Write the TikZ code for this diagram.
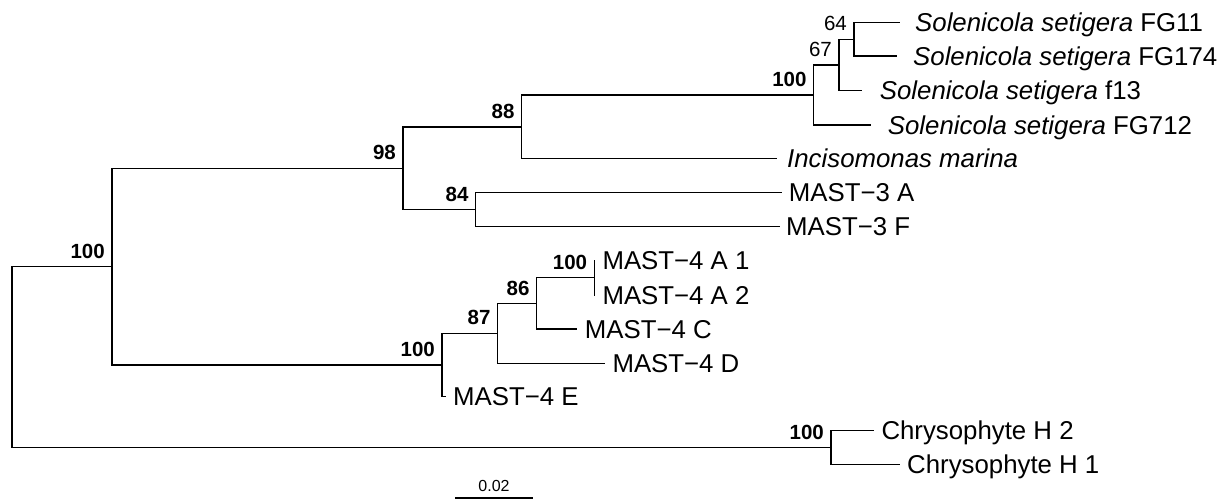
\documentclass[tikz,border=0pt]{standalone}
\usepackage{fontspec}
\setmainfont{Liberation Sans}
\usetikzlibrary{positioning}

\begin{document}
\begin{tikzpicture}[x=1pt,y=-1pt,
    branch/.style={line width=1.25pt,line cap=rect},
    leaf/.style={anchor=west,inner sep=0pt,text height=18.5pt,text depth=0pt,font=\fontsize{25.8}{30}\selectfont},
    boot/.style={anchor=south east,inner sep=0pt,xshift=-7pt,yshift=8pt,font=\fontsize{20.5}{24}\selectfont\bfseries},
    bootn/.style={boot,font=\fontsize{20.5}{24}\selectfont}]
        \useasboundingbox (0,0) rectangle (1225,500);
        % internal nodes
        \coordinate (r) at (12,357.2);
        \coordinate (nA) at (112,266.6);
        \coordinate (n98) at (403,168.3);
        \coordinate (n88) at (521.7,127);
        \coordinate (n100s) at (813.7,95);
        \coordinate (n67) at (839,65);
        \coordinate (n64) at (854,39.2);
        \coordinate (n84) at (475.7,209.7);
        \coordinate (nM) at (442,365);
        \coordinate (n87) at (497.7,333.3);
        \coordinate (n86) at (536.7,303.4);
        \coordinate (n100m) at (594.3,277.7);
        \coordinate (nC) at (831,447.5);
        % tips
        \coordinate (tFG11) at (899,22.3);
        \coordinate (tFG174) at (896,56);
        \coordinate (tf13) at (861.7,90.7);
        \coordinate (tFG712) at (870.7,125);
        \coordinate (tInc) at (776,158.7);
        \coordinate (t3A) at (781.7,192.7);
        \coordinate (t3F) at (779,226.7);
        \coordinate (t4A1) at (594.3,260.5);
        \coordinate (t4A2) at (594.3,295);
        \coordinate (t4C) at (576.7,329);
        \coordinate (t4D) at (604.3,363.3);
        \coordinate (t4E) at (445,396.7);
        \coordinate (tH2) at (873.3,430.7);
        \coordinate (tH1) at (899,464.3);
        % branches
        \foreach \p/\c in {r/nA,r/nC,nA/n98,nA/nM,n98/n88,n98/n84,n88/n100s,n88/tInc,
            n100s/n67,n100s/tFG712,n67/n64,n67/tf13,n64/tFG11,n64/tFG174,n84/t3A,n84/t3F,
            nM/n87,nM/t4E,n87/n86,n87/t4D,n86/n100m,n86/t4C,n100m/t4A1,n100m/t4A2,nC/tH2,nC/tH1}{
            \draw[branch] (\p) |- (\c);
        }
        % support values
        \node[boot] (bA) at (nA) {100};
        \node[boot] (b98) at (n98) {98};
        \node[boot] (b88) at (n88) {88};
        \node[boot] (b100s) at (n100s) {100};
        \node[bootn] (b67) at (n67) {67};
        \node[bootn] (b64) at (n64) {64};
        \node[boot] (b84) at (n84) {84};
        \node[boot] (bM) at (nM) {100};
        \node[boot] (b87) at (n87) {87};
        \node[boot] (b86) at (n86) {86};
        \node[boot] (b100m) at (n100m) {100};
        \node[boot] (bC) at (nC) {100};
        % taxa
        \node[leaf,right=16pt of tFG11] (lFG11) {\textit{Solenicola setigera} FG11};
        \node[leaf,right=17pt of tFG174] (lFG174) {\textit{Solenicola setigera} FG174};
        \node[leaf,right=18pt of tf13] (lf13) {\textit{Solenicola setigera} f13};
        \node[leaf,right=17pt of tFG712] (lFG712) {\textit{Solenicola setigera} FG712};
        \node[leaf,right=11pt of tInc] (lInc) {\textit{Incisomonas marina}};
        \node[leaf,right=7pt of t3A] (l3A) {MAST−3 A};
        \node[leaf,right=7pt of t3F] (l3F) {MAST−3 F};
        \node[leaf,right=8pt of t4A1] (l4A1) {MAST−4 A 1};
        \node[leaf,right=8pt of t4A2] (l4A2) {MAST−4 A 2};
        \node[leaf,right=8pt of t4C] (l4C) {MAST−4 C};
        \node[leaf,right=8pt of t4D] (l4D) {MAST−4 D};
        \node[leaf,right=8pt of t4E] (l4E) {MAST−4 E};
        \node[leaf,right=8pt of tH2] (lH2) {Chrysophyte H 2};
        \node[leaf,right=8pt of tH1] (lH1) {Chrysophyte H 1};
        % scale bar
        \coordinate (sL) at (455,498);
        \coordinate (sR) at (533,498);
        \draw[line width=1.5pt] (sL) -- (sR);
        \node[anchor=south,inner sep=0pt,font=\fontsize{16}{19}\selectfont] (sLab) at (494,492) {0.02};
    \end{tikzpicture}
\end{document}
